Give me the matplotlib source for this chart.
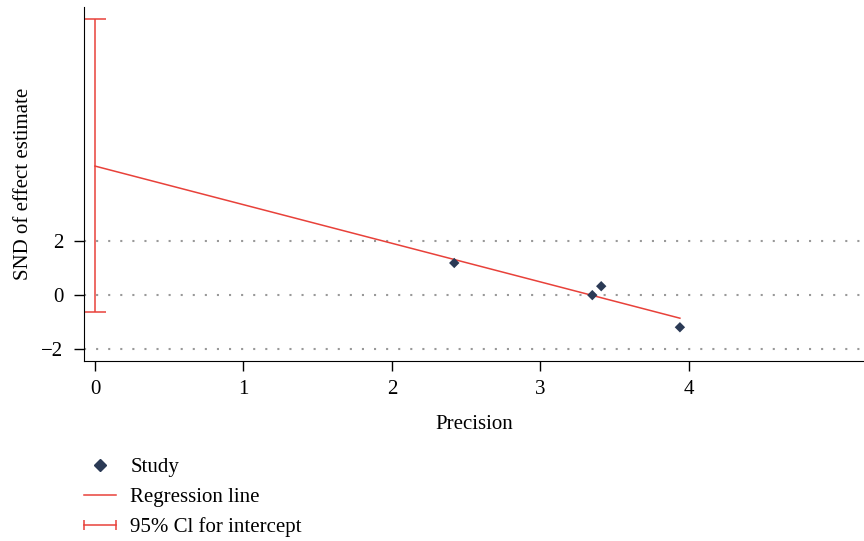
import matplotlib.pyplot as plt
import numpy as np
from matplotlib.lines import Line2D
from matplotlib.legend_handler import HandlerLine2D

plt.rcParams['font.family'] = ['Liberation Serif', 'DejaVu Serif']
plt.rcParams['font.size'] = 15

# datos (test de Egger)
precision = [2.42, 3.35, 3.41, 3.94]
snd = [1.19, 0.0, 0.33, -1.19]
intercepto = 4.78
pendiente = -1.43
ic_inf, ic_sup = -0.63, 10.22

rojo = '#e8413a'
azul = '#2b3a55'

fig = plt.figure(figsize=(8.64, 5.41), dpi=100)
ax = fig.add_axes([0.0972, 0.3327, 0.9028, 0.6543])

# lineas de referencia punteadas
for yv in [-2, 0, 2]:
    ax.axhline(yv, xmin=0.0, xmax=0.998, color='#999999', lw=1.5,
               linestyle=(0, (1, 4.8)), zorder=1)

# linea de regresion
xr = np.array([0, max(precision)])
ax.plot(xr, intercepto + pendiente * xr, color=rojo, lw=1.1, zorder=2)

# IC 95% del intercepto
centro = (ic_inf + ic_sup) / 2
ax.errorbar([0], [centro], yerr=[[centro - ic_inf], [ic_sup - centro]],
            fmt='none', ecolor=rojo, elinewidth=1.1, capsize=8,
            capthick=1.1, zorder=2)

ax.scatter(precision, snd, marker='D', s=28, color=azul, zorder=3,
           edgecolors='none')

ax.set_xlim(-0.074, 5.18)
ax.set_ylim(-2.44, 10.67)
ax.set_xticks(range(5))
ax.set_yticks([-2, 0, 2])
ax.set_yticklabels(['\u22122', '0', '2'])
ax.spines['top'].set_visible(False)
ax.spines['right'].set_visible(False)
ax.tick_params(axis='x', direction='out', length=7.5, width=1, pad=6)
ax.tick_params(axis='y', direction='out', length=7, width=1, pad=8)
ax.set_xlabel('Precision', labelpad=12)
ax.set_ylabel('SND of effect estimate', labelpad=6)

# leyenda
h_study = Line2D([], [], marker='D', markersize=6, color=azul, linestyle='none')
h_reg = Line2D([], [], color=rojo, lw=1.1)
h_ci = Line2D([], [], color=rojo, lw=1.1, marker='|', markersize=7,
              markeredgewidth=1.1)
fig.legend([h_study, h_reg, h_ci],
           ['Study', 'Regression line', '95% Cl for intercept'],
           loc='upper left', bbox_to_anchor=(0.075, 0.189), frameon=False,
           numpoints=1, handlelength=1.55, handletextpad=0.7, labelspacing=0.5,
           handler_map={h_ci: HandlerLine2D(numpoints=2, marker_pad=0)})

plt.savefig('out.png', dpi=100)
